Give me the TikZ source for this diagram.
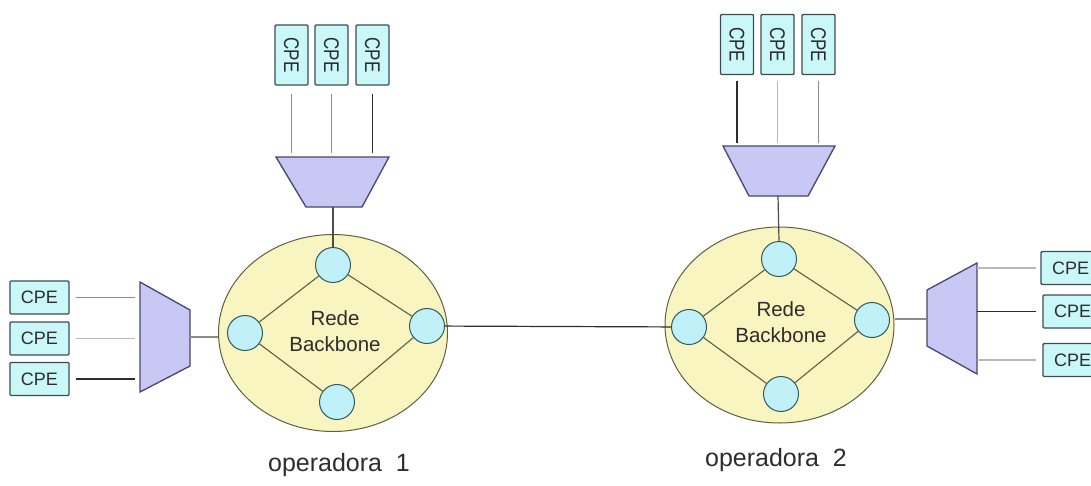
\documentclass[tikz,border=0pt]{standalone}
\usepackage{fontspec}
\usepackage{graphicx}
\setmainfont{Liberation Sans}
\usetikzlibrary{shapes.geometric}
\definecolor{cpefill}{RGB}{202,248,248}
\definecolor{cpedraw}{RGB}{62,76,82}
\definecolor{muxfill}{RGB}{200,200,245}
\definecolor{muxdraw}{RGB}{70,70,110}
\definecolor{ellfill}{RGB}{249,245,192}
\definecolor{elldraw}{RGB}{95,95,65}
\definecolor{rtfill}{RGB}{192,240,248}
\definecolor{rtdraw}{RGB}{50,90,95}
\definecolor{txt}{RGB}{45,45,45}
\definecolor{wdark}{RGB}{45,45,45}
\definecolor{wmid}{RGB}{140,140,140}
\definecolor{wlight}{RGB}{185,185,185}
\newcommand{\vcpe}{\rotatebox{-90}{\scalebox{1}[1.25]{CPE}}}
\begin{document}
\begin{tikzpicture}[x=1pt,y=-1pt,
  cpeh/.style={draw=cpedraw, fill=cpefill, line width=1.4pt, rounded corners=1pt,
    minimum width=59pt, minimum height=33pt, inner sep=0pt, text=txt,
    font=\fontsize{18}{18}\selectfont},
  cpev/.style={draw=cpedraw, fill=cpefill, line width=1.4pt, rounded corners=1pt,
    minimum width=33pt, minimum height=60pt, inner sep=0pt, text=txt,
    font=\fontsize{17}{17}\selectfont},
  mux/.style={draw=muxdraw, fill=muxfill, line width=1.3pt, line join=miter},
  ell/.style={ellipse, draw=elldraw, fill=ellfill, line width=1pt, inner sep=0pt},
  rt/.style={circle, draw=rtdraw, fill=rtfill, line width=1pt, minimum size=35pt, inner sep=0pt},
  dia/.style={draw=elldraw, line width=1.1pt},
  lbl/.style={text=txt, align=center, font=\fontsize{20.5}{26}\selectfont},
  opl/.style={text=txt, font=\fontsize{25}{25}\selectfont},
  wd/.style={draw=wdark, line width=1.5pt},
  wm/.style={draw=wmid, line width=1.4pt},
  wl/.style={draw=wlight, line width=1.4pt}
]
\useasboundingbox (0,0) rectangle (1091,485);
\clip (0,0) rectangle (1091,485);

% ---- backbone networks ----
\node[ell, minimum width=229pt, minimum height=197pt] (e1) at (333,333) {};
\node[ell, minimum width=229pt, minimum height=196pt] (e2) at (779.5,325) {};

\node[rt] (e1t) at (333,265) {};
\node[rt] (e1l) at (245,333) {};
\node[rt] (e1r) at (427,326) {};
\node[rt] (e1b) at (337,402) {};
\node[rt] (e2t) at (779,259) {};
\node[rt] (e2l) at (689,327) {};
\node[rt] (e2r) at (872,320) {};
\node[rt] (e2b) at (781,394) {};

\draw[dia] (e1t) -- (e1r) -- (e1b) -- (e1l) -- (e1t);
\draw[dia] (e2t) -- (e2r) -- (e2b) -- (e2l) -- (e2t);

\node[lbl] (bb1) at (335,331) {Rede\\Backbone};
\node[lbl] (bb2) at (781,322) {Rede\\Backbone};

\node[opl] (op1) at (339,465) {operadora~~1};
\node[opl] (op2) at (776,460) {operadora~~2};

% link between the two operators
\draw[draw=wdark, line width=1.2pt] (e1r) -- (e2l);

% ---- multiplexers ----
\draw[mux] (140,282) -- (190,310) -- (190,366) -- (140,392) -- cycle;
\coordinate (lmin) at (140,0);
\coordinate (lmout) at (190,337);

\draw[mux] (276,157) -- (389,157) -- (362,207) -- (306,207) -- cycle;
\coordinate (tm1in) at (0,157);
\coordinate (tm1out) at (333,207);

\draw[mux] (723,146) -- (835,146) -- (808,196) -- (749,196) -- cycle;
\coordinate (tm2in) at (0,146);
\coordinate (tm2out) at (778,196);

\draw[mux] (927,290) -- (977,263) -- (977,374) -- (927,346) -- cycle;
\coordinate (rmin) at (977,0);
\coordinate (rmout) at (927,319);

\draw[wm] (lmout) -- (e1.west |- lmout);
\draw[draw=wdark!85, line width=1.2pt] (tm1out) -- (e1t.north);
\draw[draw=wdark!85, line width=1.2pt] (tm2out) -- (e2t.north);
\draw[wm] (rmout) -- (e2.east |- rmout);

% ---- customer premises equipment ----
\node[cpeh] (l1) at (39.5,297.5) {CPE};
\node[cpeh] (l2) at (39.5,338.5) {CPE};
\node[cpeh] (l3) at (39.5,379) {CPE};
\draw[wm, shorten <=6pt, shorten >=5pt] (l1.east) -- (l1.east -| lmin);
\draw[wl, shorten <=6pt, shorten >=5pt] (l2.east) -- (l2.east -| lmin);
\draw[wd, shorten <=6pt, shorten >=5pt] (l3.east) -- (l3.east -| lmin);

\node[cpev] (a1) at (291.5,55) {\vcpe};
\node[cpev] (a2) at (331.5,55) {\vcpe};
\node[cpev] (a3) at (372.5,55) {\vcpe};
\draw[wm, shorten <=8pt, shorten >=4pt] (a1.south) -- (a1.south |- tm1in);
\draw[wm, shorten <=8pt, shorten >=4pt] (a2.south) -- (a2.south |- tm1in);
\draw[wd, shorten <=8pt, shorten >=4pt] (a3.south) -- (a3.south |- tm1in);

\node[cpev] (b1) at (737,44.5) {\vcpe};
\node[cpev] (b2) at (777.5,44.5) {\vcpe};
\node[cpev] (b3) at (818.5,44.5) {\vcpe};
\draw[wd, shorten <=6pt, shorten >=3pt] (b1.south) -- (b1.south |- tm2in);
\draw[wl, shorten <=6pt, shorten >=3pt] (b2.south) -- (b2.south |- tm2in);
\draw[wm, shorten <=6pt, shorten >=3pt] (b3.south) -- (b3.south |- tm2in);

\node[cpeh] (r1) at (1070.5,268) {CPE};
\node[cpeh] (r2) at (1072.5,311.5) {CPE};
\node[cpeh] (r3) at (1072.5,360) {CPE};
\draw[wl, shorten <=4pt] (r1.west) -- (r1.west -| rmin);
\draw[wd, shorten <=6pt] (r2.west) -- (r2.west -| rmin);
\draw[wl, shorten <=6pt] (r3.west) -- (r3.west -| rmin);
\end{tikzpicture}
\end{document}
